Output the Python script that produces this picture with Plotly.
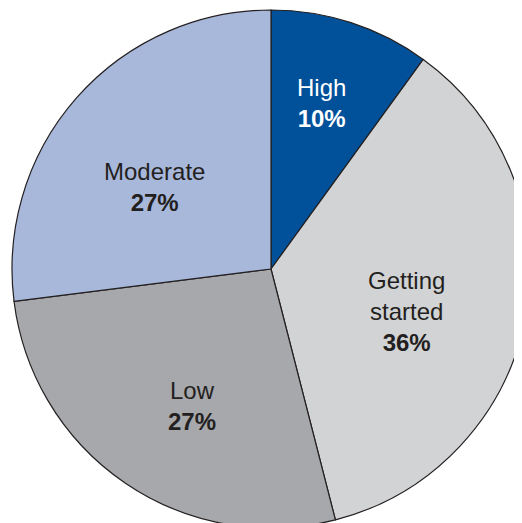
import math
import plotly.graph_objects as go

labels = ["High", "Getting started", "Low", "Moderate"]
display_labels = ["High", "Getting<br>started", "Low", "Moderate"]
values = [10, 36, 27, 27]
colors = ["#00509A", "#D2D3D5", "#A7A8AB", "#A8B8DB"]
text_colors = ["#FFFFFF", "#231F20", "#231F20", "#231F20"]

# label placement (fraction of radius, angular nudge in degrees)
label_radius = [0.67, 0.55, 0.61, 0.55]
label_nudge = [-1.2, 6.7, -4.1, -6.1]

fig = go.Figure(
    go.Pie(
        labels=labels,
        values=values,
        textinfo="none",
        sort=False,
        direction="clockwise",
        rotation=0,
        marker=dict(colors=colors, line=dict(color="#231F20", width=1.2)),
        showlegend=False,
        hoverinfo="label+percent",
    )
)

W_PLOT = 518
R = W_PLOT / 2
total = sum(values)
cum = 0
for lab, v, tc, rf, nd in zip(display_labels, values, text_colors, label_radius, label_nudge):
    mid = (cum + v / 2) / total * 360 + nd
    cum += v
    dx = rf * R * math.sin(math.radians(mid))
    dy = rf * R * math.cos(math.radians(mid))
    fig.add_annotation(
        x=0.5 + dx / W_PLOT,
        y=0.5 + dy / W_PLOT,
        xref="paper",
        yref="paper",
        text=f"{lab}<br><b>{v}%</b>",
        showarrow=False,
        xanchor="center",
        yanchor="middle",
        align="center",
        font=dict(family="Liberation Sans, Arial, sans-serif", size=24, color=tc),
    )

fig.update_layout(
    width=522,
    height=520,
    margin=dict(l=4, r=0, t=2, b=0),
    paper_bgcolor="white",
    plot_bgcolor="white",
)

fig.write_html("out.html")
